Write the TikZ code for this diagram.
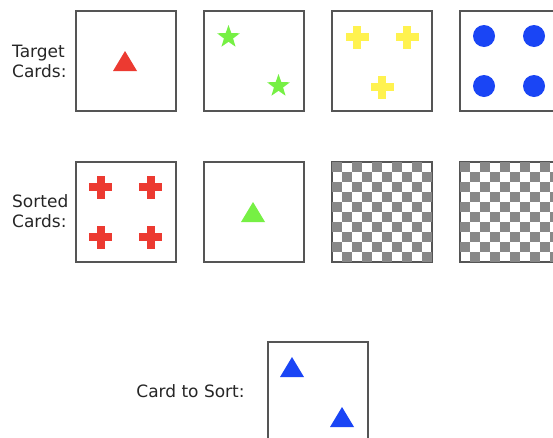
\documentclass[tikz,border=0pt]{standalone}
\usepackage{fontspec}
\setmainfont{DejaVu Sans}
\usetikzlibrary{shapes.geometric}
\definecolor{cardborder}{HTML}{555555}
\definecolor{shred}{HTML}{EC3A31}
\definecolor{shgreen}{HTML}{76F044}
\definecolor{shyellow}{HTML}{FFF24F}
\definecolor{shblue}{HTML}{1A45F5}
\definecolor{checkgray}{HTML}{888888}
\tikzset{
  card/.style={draw=cardborder, line width=1.3pt, minimum size=100pt, inner sep=0pt, fill=white},
  lbl/.style={font=\fontsize{17}{20}\selectfont, text=black!85, inner sep=0pt, align=left},
  starshape/.style={star, star points=5, star point ratio=2.5, minimum size=24pt, inner sep=0pt, fill=shgreen, draw=none},
  dot/.style={circle, minimum size=22pt, inner sep=0pt, fill=shblue, draw=none}
}
\newcommand{\tri}[3]{\fill[#3] (#1-12,#2+10) -- (#1,#2-10) -- (#1+12,#2+10) -- cycle;}
\newcommand{\crs}[3]{\fill[#3] (#1-11.5,#2-4) rectangle (#1+11.5,#2+4); \fill[#3] (#1-4,#2-11.5) rectangle (#1+4,#2+11.5);}
\begin{document}
\begin{tikzpicture}[x=1pt,y=-1pt]
\useasboundingbox (0,0) rectangle (553,437);
\clip (0,0) rectangle (553,437);
% labels
\node[lbl, anchor=west] (lt) at (12,61) {Target\\Cards:};
\node[lbl, anchor=west] (ls) at (12,211) {Sorted\\Cards:};
\node[lbl] (lc) at (190.5,391) {Card to Sort:};
% target cards
\node[card] (t1) at (126,61) {};
\node[card] (t2) at (254,61) {};
\node[card] (t3) at (382,61) {};
\node[card] (t4) at (510,61) {};
% sorted cards
\node[card] (s1) at (126,212) {};
\node[card] (s2) at (254,212) {};
\node[card] (s3) at (382,212) {};
\node[card] (s4) at (510,212) {};
% card to sort
\node[card] (c1) at (318,392) {};
% target contents
\tri{125}{61}{shred}
\node[starshape] (st1) at (228.5,37) {};
\node[starshape] (st2) at (278.5,86) {};
\crs{357}{37}{shyellow}
\crs{407}{37}{shyellow}
\crs{382}{87}{shyellow}
\node[dot] (d1) at (484,36) {};
\node[dot] (d2) at (534,36) {};
\node[dot] (d3) at (484,86) {};
\node[dot] (d4) at (534,86) {};
% sorted contents
\crs{100.5}{187}{shred}
\crs{150.5}{187}{shred}
\crs{100.5}{237}{shred}
\crs{150.5}{237}{shred}
\tri{253}{212}{shgreen}
\foreach \ox in {332,460}{
  \foreach \i in {0,...,9}{
    \foreach \j in {0,...,9}{
      \pgfmathparse{int(mod(\i+\j,2))}
      \ifnum\pgfmathresult=0
        \fill[checkgray] (\ox+10*\i,162+10*\j) rectangle (\ox+10*\i+10,162+10*\j+10);
      \fi
    }
  }
}
\draw[cardborder, line width=1.3pt] (s3.south west) rectangle (s3.north east);
\draw[cardborder, line width=1.3pt] (s4.south west) rectangle (s4.north east);
% card to sort contents
\tri{292}{367}{shblue}
\tri{342}{417}{shblue}
\end{tikzpicture}
\end{document}
